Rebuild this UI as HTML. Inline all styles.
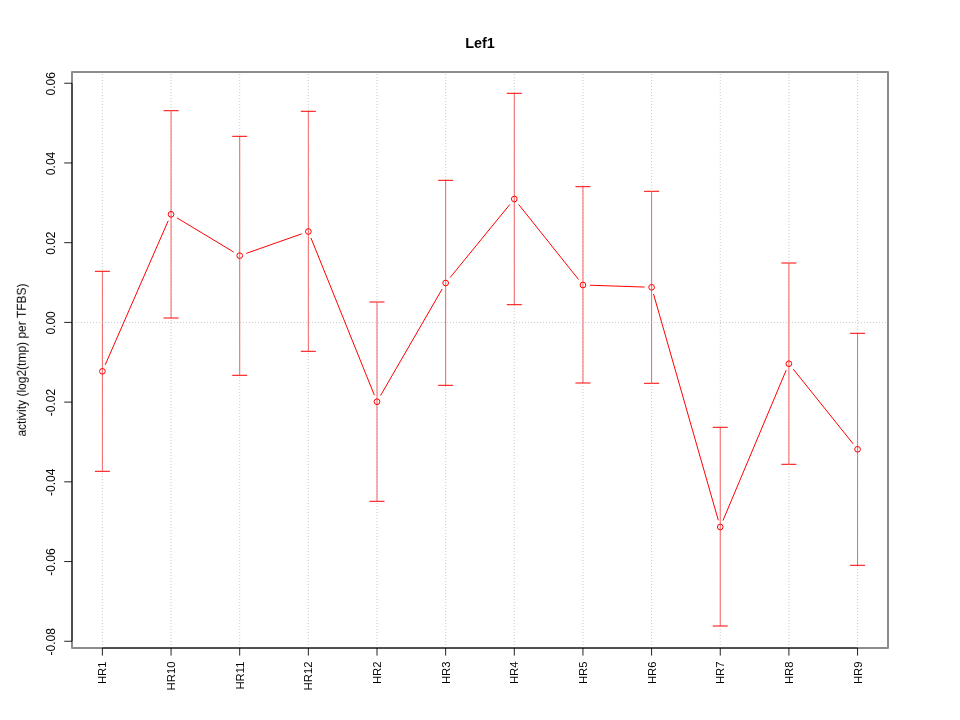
<!DOCTYPE html><html><head><meta charset="utf-8"><style>html,body{margin:0;padding:0;background:#fff;width:960px;height:720px;overflow:hidden}svg{display:block}text{font-family:"Liberation Sans",sans-serif}</style></head><body>
<svg width="960" height="720" viewBox="0 0 960 720">
<rect x="0" y="0" width="960" height="720" fill="#fff"/>
<g stroke="#ff0000" stroke-width="1" fill="none"><line x1="102.40" y1="271.3" x2="102.40" y2="471.3" stroke-opacity="0.65"/><line x1="94.90" y1="271.3" x2="109.90" y2="271.3"/><line x1="94.90" y1="471.3" x2="109.90" y2="471.3"/><line x1="171.05" y1="110.7" x2="171.05" y2="318" stroke-opacity="0.65"/><line x1="163.55" y1="110.7" x2="178.55" y2="110.7"/><line x1="163.55" y1="318" x2="178.55" y2="318"/><line x1="239.70" y1="136.3" x2="239.70" y2="375.3" stroke-opacity="0.65"/><line x1="232.20" y1="136.3" x2="247.20" y2="136.3"/><line x1="232.20" y1="375.3" x2="247.20" y2="375.3"/><line x1="308.35" y1="111.3" x2="308.35" y2="351.3" stroke-opacity="0.65"/><line x1="300.85" y1="111.3" x2="315.85" y2="111.3"/><line x1="300.85" y1="351.3" x2="315.85" y2="351.3"/><line x1="377.00" y1="302" x2="377.00" y2="501.3" stroke-opacity="0.65"/><line x1="369.50" y1="302" x2="384.50" y2="302"/><line x1="369.50" y1="501.3" x2="384.50" y2="501.3"/><line x1="445.65" y1="180.3" x2="445.65" y2="385.3" stroke-opacity="0.65"/><line x1="438.15" y1="180.3" x2="453.15" y2="180.3"/><line x1="438.15" y1="385.3" x2="453.15" y2="385.3"/><line x1="514.30" y1="93.3" x2="514.30" y2="304.7" stroke-opacity="0.65"/><line x1="506.80" y1="93.3" x2="521.80" y2="93.3"/><line x1="506.80" y1="304.7" x2="521.80" y2="304.7"/><line x1="582.95" y1="186.7" x2="582.95" y2="383" stroke-opacity="0.65"/><line x1="575.45" y1="186.7" x2="590.45" y2="186.7"/><line x1="575.45" y1="383" x2="590.45" y2="383"/><line x1="651.60" y1="191.3" x2="651.60" y2="383.3" stroke-opacity="0.65"/><line x1="644.10" y1="191.3" x2="659.10" y2="191.3"/><line x1="644.10" y1="383.3" x2="659.10" y2="383.3"/><line x1="720.25" y1="427.3" x2="720.25" y2="626" stroke-opacity="0.65"/><line x1="712.75" y1="427.3" x2="727.75" y2="427.3"/><line x1="712.75" y1="626" x2="727.75" y2="626"/><line x1="788.90" y1="263" x2="788.90" y2="464.3" stroke-opacity="0.65"/><line x1="781.40" y1="263" x2="796.40" y2="263"/><line x1="781.40" y1="464.3" x2="796.40" y2="464.3"/><line x1="857.55" y1="333.3" x2="857.55" y2="565.3" stroke-opacity="0.65"/><line x1="850.05" y1="333.3" x2="865.05" y2="333.3"/><line x1="850.05" y1="565.3" x2="865.05" y2="565.3"/></g>
<g stroke="#a9a9a9" stroke-opacity="0.6" stroke-width="1" stroke-dasharray="1 2" fill="none"><line x1="102.40" y1="71" x2="102.40" y2="648.0"/><line x1="171.05" y1="71" x2="171.05" y2="648.0"/><line x1="239.70" y1="71" x2="239.70" y2="648.0"/><line x1="308.35" y1="71" x2="308.35" y2="648.0"/><line x1="377.00" y1="71" x2="377.00" y2="648.0"/><line x1="445.65" y1="71" x2="445.65" y2="648.0"/><line x1="514.30" y1="71" x2="514.30" y2="648.0"/><line x1="582.95" y1="71" x2="582.95" y2="648.0"/><line x1="651.60" y1="71" x2="651.60" y2="648.0"/><line x1="720.25" y1="71" x2="720.25" y2="648.0"/><line x1="788.90" y1="71" x2="788.90" y2="648.0"/><line x1="857.55" y1="71" x2="857.55" y2="648.0"/><line x1="72.0" y1="322.40" x2="888.0" y2="322.40"/></g>
<g stroke="#ff0000" stroke-width="1" fill="none"><line x1="105.20" y1="364.89" x2="168.25" y2="220.71"/><line x1="177.04" y1="217.91" x2="233.71" y2="252.09"/><line x1="246.30" y1="253.37" x2="301.75" y2="233.83"/><line x1="310.97" y1="237.99" x2="374.38" y2="395.21"/><line x1="380.50" y1="395.64" x2="442.15" y2="289.06"/><line x1="450.08" y1="277.58" x2="509.87" y2="204.42"/><line x1="518.67" y1="204.47" x2="578.58" y2="279.53"/><line x1="589.95" y1="285.23" x2="644.60" y2="287.07"/><line x1="653.53" y1="294.03" x2="718.32" y2="520.27"/><line x1="722.96" y1="520.55" x2="786.19" y2="370.15"/><line x1="793.28" y1="369.16" x2="853.17" y2="443.84"/><circle cx="102.40" cy="371.3" r="2.85"/><circle cx="171.05" cy="214.3" r="2.85"/><circle cx="239.70" cy="255.7" r="2.85"/><circle cx="308.35" cy="231.5" r="2.85"/><circle cx="377.00" cy="401.7" r="2.85"/><circle cx="445.65" cy="283" r="2.85"/><circle cx="514.30" cy="199" r="2.85"/><circle cx="582.95" cy="285" r="2.85"/><circle cx="651.60" cy="287.3" r="2.85"/><circle cx="720.25" cy="527" r="2.85"/><circle cx="788.90" cy="363.7" r="2.85"/><circle cx="857.55" cy="449.3" r="2.85"/></g>
<rect x="72.0" y="72.0" width="816.0" height="576.0" fill="none" stroke="#8c8c8c" stroke-width="2" stroke-linejoin="round"/>
<g stroke="#000" stroke-width="0.86" fill="none"><line x1="72.0" y1="83.24" x2="72.0" y2="641.28"/><line x1="64.2" y1="83.24" x2="72.0" y2="83.24"/><line x1="64.2" y1="162.96" x2="72.0" y2="162.96"/><line x1="64.2" y1="242.68" x2="72.0" y2="242.68"/><line x1="64.2" y1="322.40" x2="72.0" y2="322.40"/><line x1="64.2" y1="402.12" x2="72.0" y2="402.12"/><line x1="64.2" y1="481.84" x2="72.0" y2="481.84"/><line x1="64.2" y1="561.56" x2="72.0" y2="561.56"/><line x1="64.2" y1="641.28" x2="72.0" y2="641.28"/><line x1="102.40" y1="648.0" x2="857.55" y2="648.0"/><line x1="102.40" y1="648.0" x2="102.40" y2="655.6"/><line x1="171.05" y1="648.0" x2="171.05" y2="655.6"/><line x1="239.70" y1="648.0" x2="239.70" y2="655.6"/><line x1="308.35" y1="648.0" x2="308.35" y2="655.6"/><line x1="377.00" y1="648.0" x2="377.00" y2="655.6"/><line x1="445.65" y1="648.0" x2="445.65" y2="655.6"/><line x1="514.30" y1="648.0" x2="514.30" y2="655.6"/><line x1="582.95" y1="648.0" x2="582.95" y2="655.6"/><line x1="651.60" y1="648.0" x2="651.60" y2="655.6"/><line x1="720.25" y1="648.0" x2="720.25" y2="655.6"/><line x1="788.90" y1="648.0" x2="788.90" y2="655.6"/><line x1="857.55" y1="648.0" x2="857.55" y2="655.6"/></g>
<g fill="#000" style="opacity:0.999"><text transform="translate(55,83.74) rotate(-90)" text-anchor="middle" font-size="12">0.06</text><text transform="translate(55,163.46) rotate(-90)" text-anchor="middle" font-size="12">0.04</text><text transform="translate(55,243.18) rotate(-90)" text-anchor="middle" font-size="12">0.02</text><text transform="translate(55,322.90) rotate(-90)" text-anchor="middle" font-size="12">0.00</text><text transform="translate(55,402.62) rotate(-90)" text-anchor="middle" font-size="12">-0.02</text><text transform="translate(55,482.34) rotate(-90)" text-anchor="middle" font-size="12">-0.04</text><text transform="translate(55,562.06) rotate(-90)" text-anchor="middle" font-size="12">-0.06</text><text transform="translate(55,641.78) rotate(-90)" text-anchor="middle" font-size="12">-0.08</text><text transform="translate(106.40,661.5) rotate(-90)" text-anchor="end" font-size="11.3">HR1</text><text transform="translate(175.05,661.5) rotate(-90)" text-anchor="end" font-size="11.3">HR10</text><text transform="translate(243.70,661.5) rotate(-90)" text-anchor="end" font-size="11.3">HR11</text><text transform="translate(312.35,661.5) rotate(-90)" text-anchor="end" font-size="11.3">HR12</text><text transform="translate(381.00,661.5) rotate(-90)" text-anchor="end" font-size="11.3">HR2</text><text transform="translate(449.65,661.5) rotate(-90)" text-anchor="end" font-size="11.3">HR3</text><text transform="translate(518.30,661.5) rotate(-90)" text-anchor="end" font-size="11.3">HR4</text><text transform="translate(586.95,661.5) rotate(-90)" text-anchor="end" font-size="11.3">HR5</text><text transform="translate(655.60,661.5) rotate(-90)" text-anchor="end" font-size="11.3">HR6</text><text transform="translate(724.25,661.5) rotate(-90)" text-anchor="end" font-size="11.3">HR7</text><text transform="translate(792.90,661.5) rotate(-90)" text-anchor="end" font-size="11.3">HR8</text><text transform="translate(861.55,661.5) rotate(-90)" text-anchor="end" font-size="11.3">HR9</text><text transform="translate(25.8,360) rotate(-90)" text-anchor="middle" font-size="12">activity (log2(tmp) per TFBS)</text><text x="480" y="48.3" text-anchor="middle" font-size="14.4" font-weight="bold">Lef1</text></g>
</svg></body></html>
